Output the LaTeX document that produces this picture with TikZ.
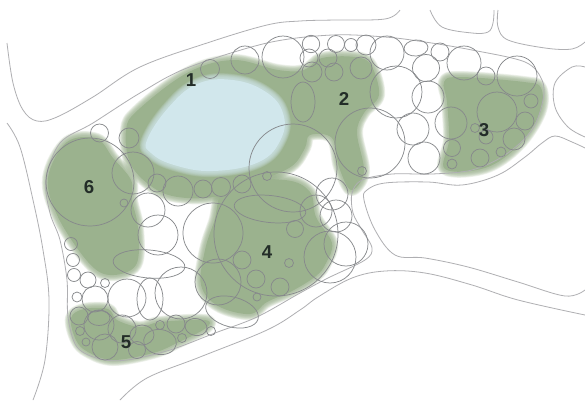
\documentclass[tikz,border=0pt]{standalone}
\usepackage{xcolor}
\usepackage{fontspec}
\setsansfont{Liberation Sans}
\definecolor{ParkGreen}{RGB}{155,178,142}
\definecolor{LakeBlue}{RGB}{209,231,236}
\definecolor{TreeGrey}{RGB}{135,137,140}
\definecolor{RoadGrey}{RGB}{175,175,178}
\definecolor{LabelDark}{RGB}{35,45,40}
\tikzset{
  treeline/.style={draw=TreeGrey,line width=0.55pt},
  roadline/.style={draw=RoadGrey,line width=0.6pt},
  arealabel/.style={font=\sffamily\bfseries\fontsize{14}{14}\selectfont,color=LabelDark}
}
% soft edge: widening translucent strokes under a solid fill
\newcommand{\softpatch}[2]{%
  \foreach \wd in {9,8,7,6,5,4,3,2}{
    \draw[#1,line width=\wd pt,opacity=0.17,line join=round] #2;
  }
  \fill[#1] #2;
}
\begin{document}
\begin{tikzpicture}[x=0.75pt,y=-0.75pt]
  \useasboundingbox (0,0) rectangle (585,401);
  \fill[white] (0,0) rectangle (585,401);

  % Green planting areas, numbers as printed
  % 1 and 2: ring round the lake, running into the second area
  \softpatch{ParkGreen}{plot[smooth cycle,tension=0.6] coordinates {
    (126,130) (138,110) (187,73) (233,60) (278,70) (304,70) (322,58) (355,57)
    (371,65) (379,95) (364,113) (357,133) (364,172) (351,190) (339,167) (332,138)
    (310,135) (305,148) (292,166) (262,180) (225,195) (187,198) (157,190) (131,165)}}
  % 3
  \softpatch{ParkGreen}{plot[smooth cycle,tension=0.6] coordinates {
    (444,82) (460,77) (524,82) (541,88) (540,113) (518,146) (485,168) (445,169)
    (449,140) (447,102)}}
  % 4, joined to the ring at its top
  \softpatch{ParkGreen}{plot[smooth cycle,tension=0.6] coordinates {
    (205,250) (214,222) (228,184) (285,180) (310,192) (316,217) (332,243) (326,263)
    (316,276) (292,291) (267,302) (250,314) (218,306) (201,285)}}
  % 5
  \softpatch{ParkGreen}{plot[smooth cycle,tension=0.6] coordinates {
    (71,318) (84,309) (108,309) (117,320) (140,327) (160,322) (205,320) (206,328)
    (177,343) (153,353) (113,360) (88,352) (76,340)}}
  % 6 and the piece below it
  \softpatch{ParkGreen}{plot[smooth cycle,tension=0.6] coordinates {
    (48,178) (67,142) (97,139) (113,158) (131,180) (132,200) (138,228) (136,265)
    (110,275) (88,262) (58,217)}}

  % Lake
  \softpatch{LakeBlue}{plot[smooth cycle,tension=0.7] coordinates {
    (147,140) (168,108) (197,84) (233,80) (266,92) (283,113) (281,139) (259,162)
    (213,171) (174,165) (151,153)}}

  % Roads and plot edges
  \draw[roadline] plot[smooth,tension=0.6] coordinates {
    (7,43) (13,83) (23,110) (37,121) (57,117) (93,97) (140,67) (207,43) (267,25)
    (300,21) (335,20) (385,19) (400,10)};
  \draw[roadline] plot[smooth cycle,tension=0.55] coordinates {
    (46,180) (60,143) (93,123) (140,93) (187,68) (267,43) (332,35) (385,37) (425,42)
    (472,50) (525,62) (542,80) (543,100) (532,130) (505,155) (472,170) (432,174)
    (392,174) (362,180) (352,193) (353,213) (362,230) (372,248) (365,260) (328,278)
    (300,293) (257,317) (215,333) (170,350) (127,360) (100,359) (77,347) (68,317)
    (67,280) (60,240) (50,213)};
  \draw[roadline] plot[smooth,tension=0.6] coordinates {
    (7,123) (20,147) (33,200) (43,250) (49,300) (45,360) (33,400)};
  \draw[roadline] plot[smooth,tension=0.6] coordinates {
    (120,400) (147,378) (200,357) (267,330) (300,310) (318,297) (352,278) (385,271)
    (425,273) (472,285) (518,300) (585,315)};
  \draw[roadline] plot[smooth,tension=0.6] coordinates {
    (585,148) (572,142) (555,136) (542,143) (525,157) (498,175) (462,185) (428,182)
    (385,183) (367,190) (364,200) (375,230) (395,255) (425,258) (468,267) (518,282)
    (565,296) (585,290)};
  \draw[roadline] plot[smooth,tension=0.6] coordinates {
    (430,10) (442,27) (472,33) (488,32) (493,23) (494,10)};
  \draw[roadline] plot[smooth,tension=0.6] coordinates {
    (498,10) (498,27) (508,40) (545,48) (572,49) (585,42)};
  \draw[roadline] plot[smooth,tension=0.6] coordinates {
    (585,67) (572,67) (555,83) (555,107) (568,127) (585,137)};

  % Tree crowns: x/y/radius
  \foreach \cx/\cy/\rr in {
    99.5/133/9, 129/138/10, 90/182/44, 133/173/21, 157/183/9, 178/191/15,
    203/189/9, 221/187/9.5, 242/184/9, 267/176/4.5, 210/69/9.5, 245/60/14,
    283/57/21, 293/168/44, 213/233/30,
    311/44/8.7, 309/58/9, 336/44/8.5, 351/45/6.5, 366/45/10, 387/53/17,
    440/52/9, 464/63/17, 426/68/13.5, 486/76/9, 517/76/20, 328/58/9,
    312/72/10, 334/72/9, 361/68/11, 396/92/26, 428/97/16, 370/143/35,
    362/171/4.5, 413/129/16, 424/158/16, 451/123/16, 452/148/8.5, 452/164/5,
    480/158/9, 497/112/20, 531/101/7, 525/121/9, 514/139/11, 501/152/5,
    486/137/7, 475/128/4.5,
    332/194/16, 316/211/16, 336/216/16, 346/244/22, 330/257/26, 276/234/62,
    148/210/17, 158/235/20, 71/244/6.5, 73/260/6.5, 74/275/6.5, 88/280/8,
    105/283/4.5, 95/299/13, 77/297/5, 127/298/19, 181/293/26, 218/282/23,
    257/297/4, 242/260/9, 256/279/9, 280/287/9, 289/263/4.5, 295/229/8.5,
    124/203/4, 79/316/9, 99/325/15, 80/331/4.5, 86/342/4, 105/347/13,
    122/329/14, 137/350/8.5, 160/325/4.5, 176/324/9, 182/338/4.5, 211/331/4.5
  }{
    \draw[treeline] (\cx,\cy) circle[radius=\rr];
  }
  % Oval crowns: x/y/rx/ry/tilt
  \foreach \cx/\cy/\rx/\ry/\tl in {
    416/48/12/8/5, 303/102/12/20/0, 270/209/36/13.5/-6, 149/264/36/14/-5,
    150/299/13/21/0, 232/312/27/15/-15, 99/318/11/7.5/0, 142/335/12/10/0,
    160/342/16.5/12.5/-8, 196/327/11/8.5/-10
  }{
    \draw[treeline,rotate around={\tl:(\cx,\cy)}] (\cx,\cy) ellipse[x radius=\rx,y radius=\ry];
  }

  % Area numbers
  \foreach \nm/\ax/\ay in {1/191/80, 2/344/99, 3/484/130, 4/267/252, 5/126/342, 6/89/187}{
    \node[arealabel] (area\nm) at (\ax,\ay) {\nm};
  }
\end{tikzpicture}
\end{document}
